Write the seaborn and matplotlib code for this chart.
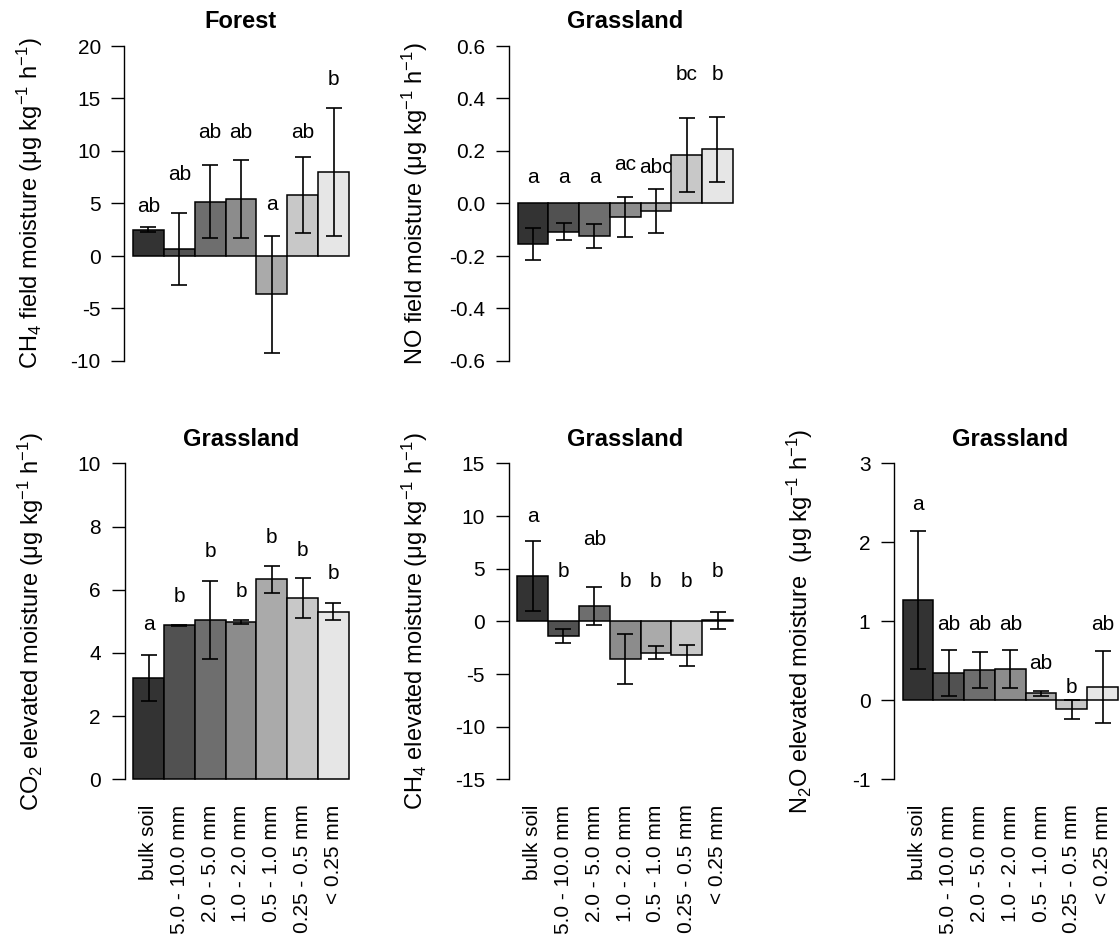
import matplotlib
matplotlib.use("Agg")
import matplotlib.pyplot as plt
import seaborn as sns
import pandas as pd
from matplotlib.ticker import FormatStrFormatter

plt.rcParams["font.family"] = ["Liberation Sans", "DejaVu Sans"]
plt.rcParams["mathtext.fontset"] = "custom"
plt.rcParams["mathtext.rm"] = "Liberation Sans"
plt.rcParams["mathtext.it"] = "Liberation Sans:italic"
plt.rcParams["mathtext.bf"] = "Liberation Sans:bold"
plt.rcParams["axes.unicode_minus"] = False

fractions = ["bulk soil", "5.0 - 10.0 mm", "2.0 - 5.0 mm", "1.0 - 2.0 mm",
             "0.5 - 1.0 mm", "0.25 - 0.5 mm", "< 0.25 mm"]
greys = ["#333333", "#515151", "#6e6e6e", "#8c8c8c", "#aaaaaa", "#c8c8c8", "#e6e6e6"]

# forest, CH4, field moisture
ch4_forest = [2.5, 0.65, 5.18, 5.42, -3.65, 5.82, 8.03]
ch4_forest_se = [0.25, 3.42, 3.44, 3.68, 5.55, 3.6, 6.1]
ch4_forest_letters = ["ab", "ab", "ab", "ab", "a", "ab", "b"]
ch4_forest_letter_y = [4.2, 7.2, 11.2, 11.2, 4.4, 11.2, 16.3]

# grassland, NO, field moisture
no_grass = [-0.155, -0.107, -0.125, -0.052, -0.028, 0.184, 0.207]
no_grass_se = [0.061, 0.031, 0.045, 0.076, 0.085, 0.141, 0.124]
no_grass_letters = ["a", "a", "a", "ac", "abc", "bc", "b"]
no_grass_letter_y = [0.077, 0.077, 0.077, 0.126, 0.116, 0.471, 0.471]

# grassland, CO2, elevated moisture
co2_grass = [3.21, 4.88, 5.04, 4.98, 6.33, 5.73, 5.31]
co2_grass_se = [0.72, 0.02, 1.24, 0.05, 0.42, 0.63, 0.28]
co2_grass_letters = ["a", "b", "b", "b", "b", "b", "b"]
co2_grass_letter_y = [4.73, 5.62, 7.03, 5.78, 7.47, 7.08, 6.34]

# grassland, CH4, elevated moisture
ch4_grass = [4.32, -1.36, 1.46, -3.54, -2.97, -3.23, 0.1]
ch4_grass_se = [3.34, 0.66, 1.83, 2.37, 0.63, 1.0, 0.8]
ch4_grass_letters = ["a", "b", "ab", "b", "b", "b", "b"]
ch4_grass_letter_y = [9.46, 4.24, 7.25, 3.23, 3.23, 3.23, 4.24]

# grassland, N2O, elevated moisture
n2o_grass = [1.27, 0.344, 0.386, 0.40, 0.089, -0.11, 0.167]
n2o_grass_se = [0.87, 0.29, 0.23, 0.243, 0.034, 0.12, 0.454]
n2o_grass_letters = ["a", "ab", "ab", "ab", "ab", "b", "ab"]
n2o_grass_letter_y = [2.41, 0.895, 0.895, 0.895, 0.392, 0.097, 0.895]

unit = r" (μg kg$^{-1}$ h$^{-1}$)"

W, H = 1120, 938
fig = plt.figure(figsize=(W / 100, H / 100), dpi=100)


def panel(box, values, se, letters, letter_y, ylim, yticks, title, ylabel,
          show_names, fmt="%g"):
    x0, y0, x1, y1 = box
    ax = fig.add_axes([x0 / W, 1 - y1 / H, (x1 - x0) / W, (y1 - y0) / H])
    df = pd.DataFrame({"fraction": fractions, "flux": values})
    sns.barplot(data=df, x="fraction", y="flux", hue="fraction", palette=greys,
                saturation=1, width=1, edgecolor="black", linewidth=1.1,
                legend=False, ax=ax, zorder=2)
    ax.errorbar(range(len(values)), values, yerr=se, fmt="none", ecolor="black",
                elinewidth=1.2, capsize=6, capthick=1.2, zorder=3)
    # letters sit under the bars, as in the original
    for i, (lab, y) in enumerate(zip(letters, letter_y)):
        ax.text(i, y, lab, ha="center", va="baseline", fontsize=15, zorder=1)

    lo, hi = ylim
    pad = 0.04 * (hi - lo)
    ax.set_ylim(lo - pad, hi + pad)
    ax.set_xlim(-0.78, 6.78)
    ax.set_yticks(yticks)
    ax.yaxis.set_major_formatter(FormatStrFormatter(fmt))
    for s in ["top", "right", "bottom"]:
        ax.spines[s].set_visible(False)
    ax.spines["left"].set_bounds(lo, hi)
    ax.spines["left"].set_linewidth(1.0)
    ax.tick_params(axis="y", length=9.5, width=1.0, pad=7.5, labelsize=15)
    ax.tick_params(axis="x", length=0, pad=9.0, labelsize=15, labelrotation=90)
    if not show_names:
        ax.tick_params(axis="x", labelbottom=False)
    ax.set_xlabel("")
    ax.set_title(title, fontsize=17, fontweight="bold", pad=2)
    ax.set_ylabel(ylabel, fontsize=17, va="baseline")
    ax.yaxis.set_label_coords(-86 / (x1 - x0), 0.5)
    return ax


panel((124.4, 33.4, 357.6, 373.6), ch4_forest, ch4_forest_se,
      ch4_forest_letters, ch4_forest_letter_y, (-10, 20), range(-10, 21, 5),
      "Forest", r"CH$_4$ field moisture" + unit, False)
panel((509.0, 33.4, 741.4, 373.6), no_grass, no_grass_se,
      no_grass_letters, no_grass_letter_y, (-0.6, 0.6),
      [-0.6, -0.4, -0.2, 0.0, 0.2, 0.4, 0.6],
      "Grassland", "NO field moisture" + unit, False, fmt="%.1f")
panel((124.6, 450.7, 357.4, 792.0), co2_grass, co2_grass_se,
      co2_grass_letters, co2_grass_letter_y, (0, 10), range(0, 11, 2),
      "Grassland", r"CO$_2$ elevated moisture" + unit, True)
panel((508.6, 450.7, 741.6, 792.0), ch4_grass, ch4_grass_se,
      ch4_grass_letters, ch4_grass_letter_y, (-15, 15), range(-15, 16, 5),
      "Grassland", r"CH$_4$ elevated moisture" + unit, True)
panel((894.0, 450.7, 1126.6, 792.0), n2o_grass, n2o_grass_se,
      n2o_grass_letters, n2o_grass_letter_y, (-1, 3), range(-1, 4),
      "Grassland", r"N$_2$O elevated moisture " + unit, True)

fig.savefig("out.png", dpi=100)
